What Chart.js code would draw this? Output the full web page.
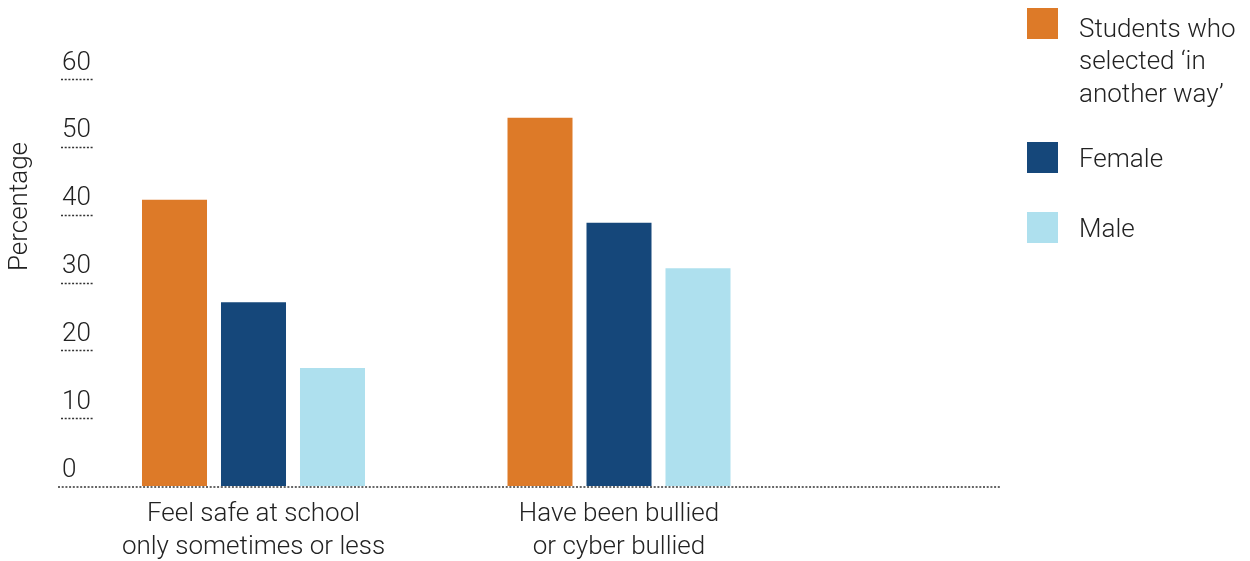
<!DOCTYPE html>
<html>
<head>
<meta charset="utf-8">
<script src="https://cdn.jsdelivr.net/npm/chart.js@4.4.1/dist/chart.umd.min.js"></script>
<style>
  html, body { margin: 0; padding: 0; background: #ffffff; }
  #wrap { width: 1250px; height: 561px; position: relative; }
</style>
</head>
<body>
<div id="wrap"><canvas id="chart" width="1250" height="561"></canvas></div>
<script>
// Survey categories (two-line labels) and series
const categories = [
  ["Feel safe at school", "only sometimes or less"],
  ["Have been bullied", "or cyber bullied"]
];
const seriesNames = [
  ["Students who", "selected ‘in", "another way’"],
  ["Female"],
  ["Male"]
];
const anotherWay = [42.2, 54.3];
const female = [27.1, 38.8];
const male = [17.4, 32.1];
const yTicks = [0, 10, 20, 30, 40, 50, 60];
const axisTitle = "Percentage";

const colors = ["#DD7A28", "#15477A", "#AEE0EE"];
const textColor = "#222222";
const fontFamily = "Roboto, 'Liberation Sans', Arial, sans-serif";
const FONT_SIZE = 26;

// Dotted tick marks, dotted baseline, rotated axis title and the legend
const decorPlugin = {
  id: "decor",
  afterDatasetsDraw(chart) {
    const ctx = chart.ctx;
    const y = chart.scales.y;
    ctx.save();
    ctx.strokeStyle = "#333333";
    ctx.lineWidth = 1.5;
    ctx.setLineDash([2, 1.7]);
    yTicks.forEach(v => {
      const py = Math.round(y.getPixelForValue(v));
      ctx.beginPath();
      if (v === 0) {
        ctx.moveTo(58, py + 1);
        ctx.lineTo(1000, py + 1);
      } else {
        ctx.moveTo(61, py + 0.5);
        ctx.lineTo(94, py + 0.5);
      }
      ctx.stroke();
    });
    ctx.restore();
  },
  afterDraw(chart) {
    const ctx = chart.ctx;
    ctx.save();
    ctx.fillStyle = textColor;
    ctx.font = "300 " + FONT_SIZE + "px " + fontFamily;
    // axis title
    ctx.save();
    ctx.translate(27, 206.5);
    ctx.rotate(-Math.PI / 2);
    ctx.textAlign = "center";
    ctx.textBaseline = "alphabetic";
    ctx.fillText(axisTitle, 0, 0);
    ctx.restore();
    // legend
    ctx.textAlign = "left";
    ctx.textBaseline = "alphabetic";
    let top = 8;
    chart.data.datasets.forEach((ds, i) => {
      const lines = seriesNames[i];
      ctx.fillStyle = ds.backgroundColor;
      ctx.fillRect(1027, top, 31, 31);
      ctx.fillStyle = textColor;
      const first = top + 25 + (lines.length > 1 ? 4 : 0);
      lines.forEach((ln, k) => ctx.fillText(ln, 1079, first + k * 32.3));
      top += 70 + (lines.length - 1) * 32;
    });
    ctx.restore();
  }
};

new Chart(document.getElementById("chart"), {
  type: "bar",
  data: {
    labels: categories,
    datasets: [
      { label: seriesNames[0].join(" "), data: anotherWay, backgroundColor: colors[0] },
      { label: seriesNames[1].join(" "), data: female, backgroundColor: colors[1] },
      { label: seriesNames[2].join(" "), data: male, backgroundColor: colors[2] }
    ]
  },
  options: {
    responsive: false,
    animation: false,
    devicePixelRatio: 1,
    layout: { padding: { left: 0, right: 448.25, top: 79, bottom: 0 } },
    datasets: {
      bar: { categoryPercentage: 0.6484, barPercentage: 0.823, borderWidth: 0 }
    },
    plugins: {
      legend: { display: false },
      tooltip: { enabled: false },
      title: { display: false }
    },
    scales: {
      x: {
        grid: { display: false },
        border: { display: false },
        ticks: {
          color: textColor,
          padding: 4,
          maxRotation: 0,
          autoSkip: false,
          font: { family: fontFamily, size: FONT_SIZE, weight: 300, lineHeight: 33 / FONT_SIZE }
        },
        afterFit(scale) { scale.height = 75; }
      },
      y: {
        min: 0,
        max: 60,
        grid: { display: false },
        border: { display: false },
        afterBuildTicks(scale) { scale.ticks = yTicks.map(v => ({ value: v })); },
        ticks: {
          mirror: true,
          crossAlign: "near",
          padding: -8.75,
          labelOffset: -16,
          color: textColor,
          font: { family: fontFamily, size: FONT_SIZE, weight: 300 }
        },
        afterFit(scale) { scale.width = 70.75; }
      }
    }
  },
  plugins: [decorPlugin]
});
</script>
</body>
</html>
